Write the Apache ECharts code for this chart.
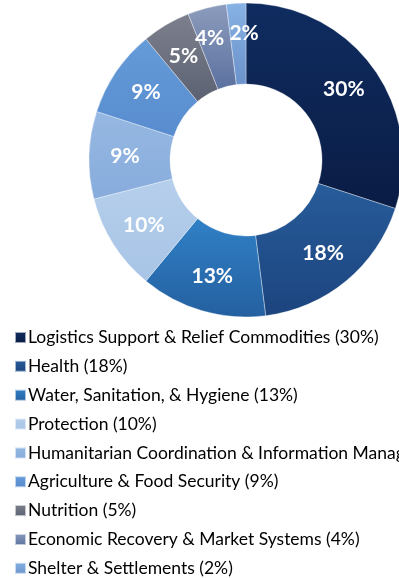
<!DOCTYPE html>
<html>
<head>
<meta charset="utf-8">
<script src="https://cdn.jsdelivr.net/npm/echarts@6/dist/echarts.min.js"></script>
<style>
html,body{margin:0;padding:0;background:#fff;}
#chart{width:399px;height:578px;}
</style>
</head>
<body>
<div id="chart"></div>
<script>
var categories = [
  "Logistics Support & Relief Commodities",
  "Health",
  "Water, Sanitation, & Hygiene",
  "Protection",
  "Humanitarian Coordination & Information Management",
  "Agriculture & Food Security",
  "Nutrition",
  "Economic Recovery & Market Systems",
  "Shelter & Settlements"
];
var values = [30, 18, 13, 10, 9, 9, 5, 4, 2];
var colorsTop = ["#0f2c60", "#275c9a", "#3080c6", "#b5cfeb", "#96b8e2", "#659bd8", "#7d818e", "#8c9cbc", "#87b2e4"];
var colorsBottom = ["#0a1c44", "#1c447e", "#2460a0", "#a8c4e6", "#87acdc", "#588ccf", "#5c6172", "#5b71a0", "#6b92cb"];

var CX = 246, CY = 160, R0 = 76, R1 = 157, LABEL_R = 121;
var LABEL_FONT = 'bold 21px Lato';

// Label angles: slice mid-angles (clockwise from 12 o'clock), nudged apart where labels collide
var total = values.reduce(function (a, b) { return a + b; }, 0);
var labelAngles = [];
var acc = 0;
values.forEach(function (v) { labelAngles.push((acc + v / 2) / total * 360); acc += v; });
var ctx = document.createElement('canvas').getContext('2d');
ctx.font = LABEL_FONT;
var labelW = values.map(function (v) { return ctx.measureText(v + '%').width; });
var labelH = 16;
function lpos(i) {
  var a = labelAngles[i] * Math.PI / 180;
  var r = LABEL_R + (values[i] / total < 0.05 ? 6 : 0);
  return [CX + r * Math.sin(a), CY - r * Math.cos(a)];
}
for (var iter = 0; iter < 200; iter++) {
  var moved = false;
  for (var i = 0; i < values.length; i++) {
    var j = (i + 1) % values.length;
    var p = lpos(i), q = lpos(j);
    var ox = (labelW[i] + labelW[j]) / 2 + 5 - Math.abs(p[0] - q[0]);
    var oy = labelH + 2 - Math.abs(p[1] - q[1]);
    if (ox > 0 && oy > 0) {
      labelAngles[i] -= 0.25;
      labelAngles[j] += 0.25;
      moved = true;
    }
  }
  if (!moved) break;
}

var chart = echarts.init(document.getElementById('chart'), null, {renderer: 'canvas'});
var data = categories.map(function (c, i) {
  return {
    name: c,
    value: values[i],
    itemStyle: {
      color: new echarts.graphic.LinearGradient(0, 0, 0, 1, [
        {offset: 0, color: colorsTop[i]},
        {offset: 1, color: colorsBottom[i]}
      ])
    }
  };
});
var valueByName = {};
categories.forEach(function (c, i) { valueByName[c] = values[i]; });

chart.setOption({
  animation: false,
  legend: {
    orient: 'vertical',
    left: 14,
    top: 328.5,
    height: 280,
    padding: 0,
    itemWidth: 11,
    itemHeight: 11,
    itemGap: 10.85,
    icon: 'rect',
    textStyle: {
      fontFamily: 'Lato',
      fontSize: 17.5,
      color: '#000',
      padding: [0, 0, 0, -3]
    },
    formatter: function (name) { return name + ' (' + valueByName[name] + '%)'; },
    data: categories
  },
  series: [{
    type: 'pie',
    center: [CX, CY],
    radius: [R0, R1],
    startAngle: 90,
    clockwise: true,
    avoidLabelOverlap: false,
    itemStyle: {borderColor: 'rgba(255,255,255,0.6)', borderWidth: 0.6},
    label: {
      show: true,
      position: 'inside',
      formatter: '{c}%',
      color: '#fff',
      fontFamily: 'Lato',
      fontWeight: 'bold',
      fontSize: 21,
      overflow: 'none'
    },
    labelLayout: function (params) {
      var p = lpos(params.dataIndex);
      return {x: p[0], y: p[1], hideOverlap: false};
    },
    labelLine: {show: false},
    emphasis: {disabled: true},
    data: data
  }]
});
</script>
</body>
</html>
